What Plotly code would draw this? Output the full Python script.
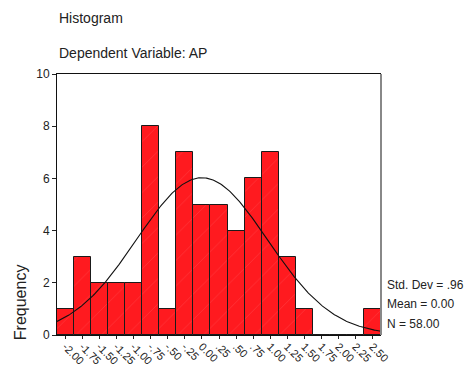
import numpy as np
import plotly.graph_objects as go

# Data
bin_centers = [-2.00, -1.75, -1.50, -1.25, -1.00, -0.75, -0.50, -0.25, 0.00, 0.25,
               0.50, 0.75, 1.00, 1.25, 1.50, 1.75, 2.00, 2.25, 2.50]
tick_labels = ["-2.00", "-1.75", "-1.50", "-1.25", "-1.00", "-.75", "-.50", "-.25", "0.00", ".25",
               ".50", ".75", "1.00", "1.25", "1.50", "1.75", "2.00", "2.25", "2.50"]
counts = [1, 3, 2, 2, 2, 8, 1, 7, 5, 5, 4, 6, 7, 3, 1, 0, 0, 0, 1]
std_dev = 0.96
mean = 0.00
n_obs = 58
bin_width = 0.25

# Fitted normal curve from the stated statistics
xc = np.linspace(bin_centers[0] - bin_width / 2, bin_centers[-1] + bin_width / 2, 300)
yc = n_obs * bin_width / (std_dev * np.sqrt(2 * np.pi)) * np.exp(-0.5 * ((xc - mean) / std_dev) ** 2)

FONT = "Liberation Sans, Arial, sans-serif"
TXT = "#222222"

fig = go.Figure()
fig.add_trace(go.Bar(
    x=bin_centers, y=counts, width=bin_width,
    marker=dict(color="#FF1A1F", line=dict(color="#1a1a1a", width=1),
                pattern=dict(shape="/", fgcolor="rgba(255,255,255,0.35)", size=18, solidity=0.03)),
    showlegend=False, hoverinfo="skip",
))
fig.add_trace(go.Scatter(
    x=xc, y=yc, mode="lines", line=dict(color="#111111", width=1.1),
    showlegend=False, hoverinfo="skip",
))

fig.update_layout(
    width=465, height=365,
    margin=dict(l=57, r=84, t=74, b=30),
    paper_bgcolor="white", plot_bgcolor="white",
    font=dict(family=FONT, size=12, color=TXT),
    bargap=0,
    xaxis=dict(
        range=[bin_centers[0] - bin_width / 2, bin_centers[-1] + bin_width / 2],
        tickmode="array", tickvals=bin_centers, ticktext=tick_labels,
        tickangle=45, ticks="outside", ticklen=3, tickcolor=TXT,
        ticklabelstandoff=-3,
        showline=True, linecolor="#111111", linewidth=1, mirror=True,
        showgrid=False, zeroline=False, automargin=False,
        tickfont=dict(family=FONT, size=11, color=TXT),
    ),
    yaxis=dict(
        range=[0, 10], tickmode="array", tickvals=[0, 2, 4, 6, 8, 10],
        ticks="outside", ticklen=4, tickcolor=TXT,
        showline=True, linecolor="#111111", linewidth=1,
        showgrid=False, zeroline=False, automargin=False,
        tickfont=dict(family=FONT, size=12, color=TXT),
    ),
    shapes=[dict(type="line", xref="paper", yref="paper", x0=1, x1=1, y0=0, y1=1,
                 line=dict(color="#888888", width=2))],
    annotations=[
        dict(text="Histogram", xref="paper", yref="paper", x=0, y=1.216,
             xanchor="left", yanchor="middle", showarrow=False,
             font=dict(family=FONT, size=14, color=TXT)),
        dict(text="Dependent Variable: AP", xref="paper", yref="paper", x=0, y=1.082,
             xanchor="left", yanchor="middle", showarrow=False,
             font=dict(family=FONT, size=14, color=TXT)),
        dict(text="Frequency", xref="paper", yref="paper", x=-0.114, y=0.126,
             xanchor="center", yanchor="middle", textangle=-90, showarrow=False,
             font=dict(family=FONT, size=16, color=TXT)),
        dict(text="Std. Dev = .96", xref="paper", yref="paper", x=1.012, y=0.191,
             xanchor="left", yanchor="middle", showarrow=False,
             font=dict(family=FONT, size=12, color=TXT)),
        dict(text="Mean = 0.00", xref="paper", yref="paper", x=1.012, y=0.119,
             xanchor="left", yanchor="middle", showarrow=False,
             font=dict(family=FONT, size=12, color=TXT)),
        dict(text="N = 58.00", xref="paper", yref="paper", x=1.012, y=0.042,
             xanchor="left", yanchor="middle", showarrow=False,
             font=dict(family=FONT, size=12, color=TXT)),
    ],
)

fig.write_html("out.html")
